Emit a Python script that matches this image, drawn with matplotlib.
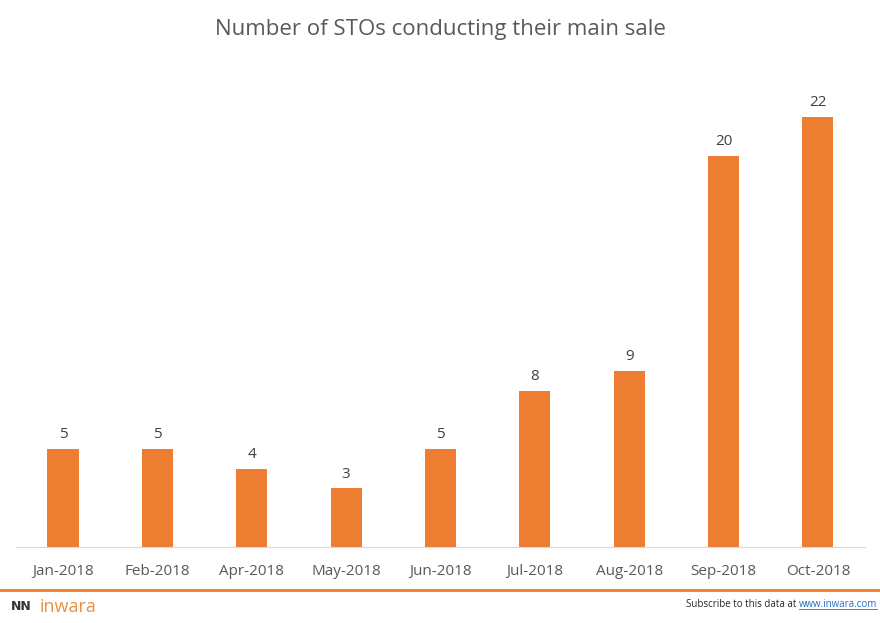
import matplotlib.pyplot as plt
import numpy as np

months = ['Jan-2018', 'Feb-2018', 'Apr-2018', 'May-2018', 'Jun-2018',
          'Jul-2018', 'Aug-2018', 'Sep-2018', 'Oct-2018']
counts = [5, 5, 4, 3, 5, 8, 9, 20, 22]

orange = '#ED7D31'

fig = plt.figure(figsize=(8.8, 6.23), dpi=100)
ax = fig.add_axes([0.018, 0.122, 0.965, 0.753])

x = np.arange(len(months))
bars = ax.bar(x, counts, width=0.33, color=orange)
for xi, v in zip(x, counts):
    ax.text(xi, v + 0.35, str(v), ha='center', va='bottom', fontsize=11,
            color='#404040', family='Open Sans')

ax.set_xlim(-0.5, len(months) - 0.5)
ax.set_ylim(0, 24)
ax.set_xticks(x)
ax.set_xticklabels(months, fontsize=11, color='#595959', family='Open Sans')
ax.tick_params(axis='x', length=0, pad=12)
ax.set_yticks([])
for s in ['top', 'right', 'left']:
    ax.spines[s].set_visible(False)
ax.spines['bottom'].set_color('#d9d9d9')

fig.text(0.5, 0.952, 'Number of STOs conducting their main sale', ha='center',
         va='center', fontsize=16, color='#595959', family='Open Sans')

# footer
fig.add_artist(plt.Line2D([0, 1], [0.053, 0.053], color=orange, lw=2))
fig.text(0.012, 0.026, 'NN', fontsize=9, fontweight='bold', color='#333333',
         va='center', family='DejaVu Sans')
fig.text(0.045, 0.026, 'inwara', fontsize=13, color='#E8913F', va='center',
         family='Open Sans')

link = fig.text(0.997, 0.03, 'www.inwara.com', fontsize=7, color='#1F6FC5',
                ha='right', va='center', family='Open Sans')
fig.canvas.draw()
r = fig.canvas.get_renderer()
bb = link.get_window_extent(r).transformed(fig.transFigure.inverted())
fig.text(bb.x0, 0.03, 'Subscribe to this data at ', fontsize=7,
         color='#262626', ha='right', va='center', family='Open Sans')
fig.add_artist(plt.Line2D([bb.x0, bb.x1], [bb.y0 + 0.001, bb.y0 + 0.001],
                          color='#1F6FC5', lw=0.6))

fig.savefig('out.png', dpi=100)
